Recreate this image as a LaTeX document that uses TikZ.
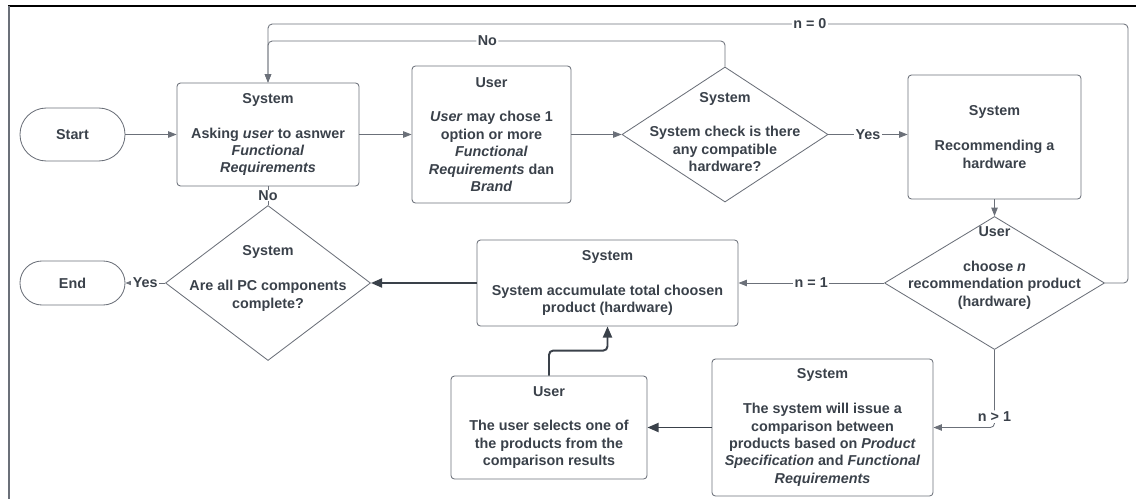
\documentclass[tikz,border=0pt]{standalone}
\usepackage{fontspec}
\setmainfont{Liberation Sans}
\usetikzlibrary{shapes.geometric,arrows.meta}
\definecolor{ink}{HTML}{3A414A}
\definecolor{edge}{HTML}{6B7079}

\begin{document}
\begin{tikzpicture}[x=0.025cm, y=-0.025cm, >={Stealth[length=6pt,width=4.6pt,inset=0pt]},
  font=\fontsize{10.2pt}{12.4pt}\selectfont\bfseries, text=ink,
  box/.style={draw=edge, line width=0.6pt, rounded corners=2.5pt, align=center, inner sep=0pt},
  pill/.style={draw=edge, line width=0.6pt, rounded corners=#1, inner sep=0pt},
  dia/.style={diamond, draw=edge, line width=0.6pt, inner sep=0pt},
  dtxt/.style={align=center, inner sep=0pt},
  lbl/.style={fill=white, inner sep=1pt},
  link/.style={->, draw=edge, line width=0.6pt},
  heavy/.style={-{Stealth[length=8pt,width=6.5pt,inset=0pt]}, draw=ink, line width=1.4pt}]
\useasboundingbox (0,0) rectangle (1136,499);
\draw[black, line width=1.1pt] (8,6) -- (1136,6);
\draw[edge, line width=1.4pt] (9,6) -- (9,499);

\node (start) at (72.5,134.5) [pill=0.66cm, minimum width=2.625cm, minimum height=1.325cm] {Start};
\node (ask) at (268,134.5) [box, minimum width=4.55cm, minimum height=2.575cm] {System\\[12.4pt] Asking \textit{user} to asnwer\\ \textit{Functional}\\ \textit{Requirements}};
\node (opt) at (491.5,134.5) [box, minimum width=3.975cm, minimum height=3.425cm] {User\\[12.4pt] \textit{User} may chose 1\\ option or more\\ \textit{Functional}\\ \textit{Requirements} dan\\ \textit{Brand}};
\node (chk) at (725,134.5) [dia, minimum width=5.15cm, minimum height=3.375cm] {};
\node (chk-t) at (725,132) [dtxt] {System\\[12.4pt] System check is there\\ any compatible\\ hardware?};
\node (rec) at (994.5,137) [box, minimum width=4.325cm, minimum height=3.1cm] {System\\[12.4pt] Recommending a\\ hardware};
\node (pick) at (994.5,283) [dia, minimum width=5.5cm, minimum height=3.325cm] {};
\node (pick-t) at (994.5,268) [dtxt] {User\\[12.4pt] choose \textit{n}\\ recommendation product\\ (hardware)};
\node (acc) at (607.5,283) [box, minimum width=6.525cm, minimum height=2.15cm] {System\\[12.4pt] System accumulate total choosen\\ product (hardware)};
\node (done) at (268,283) [dia, minimum width=5.125cm, minimum height=3.875cm] {};
\node (done-t) at (268,278.5) [dtxt] {System\\[12.4pt] Are all PC components\\ complete?};
\node (end) at (72.5,283) [pill=0.55cm, minimum width=2.625cm, minimum height=1.1cm] {End};
\node (cmp) at (822.5,427.5) [box, minimum width=5.525cm, minimum height=3.425cm] {System\\[12.4pt] The system will issue a\\ comparison between\\ products based on \textit{Product}\\ \textit{Specification} and \textit{Functional}\\ \textit{Requirements}};
\node (sel) at (549,427.5) [box, minimum width=4.9cm, minimum height=2.575cm] {User\\[12.4pt] The user selects one of\\ the products from the\\ comparison results};
\coordinate (nojoin) at (268,41);
\coordinate (zr) at (1128,24);
\coordinate (zl) at (268,24);

\draw[link] (start) -- (ask);
\draw[link] (ask) -- (opt);
\draw[link] (opt) -- (chk);
\draw[link] (chk.east) -- node[lbl] {Yes} (chk.east -| rec.west);
\draw[link] (rec) -- (pick);
\draw[link] (pick) -- node[lbl] {n = 1} (acc);
\draw[heavy] (acc) -- (done);
\draw[link] (done) -- node[lbl] {Yes} (end);
\draw[draw=edge, line width=0.6pt] (done) -- node[lbl, inner sep=0.5pt] {No} (ask);
\draw[link, rounded corners=3pt] (pick.south) |- node[lbl, pos=0.43] {n > 1} (cmp.east);
\draw[heavy] (cmp) -- (sel);
\draw[heavy, rounded corners=3pt] (sel.north) -- ++(0,-25) -| (acc.south);
\draw[link, rounded corners=3pt] (chk.north) |- node[lbl, pos=0.76] {No} (nojoin) -- (ask.north);
\draw[link, rounded corners=3pt] (pick.east) -| (zr) -- node[lbl, pos=0.37] {n = 0} (zl) -- (ask.north);
\end{tikzpicture}
\end{document}
